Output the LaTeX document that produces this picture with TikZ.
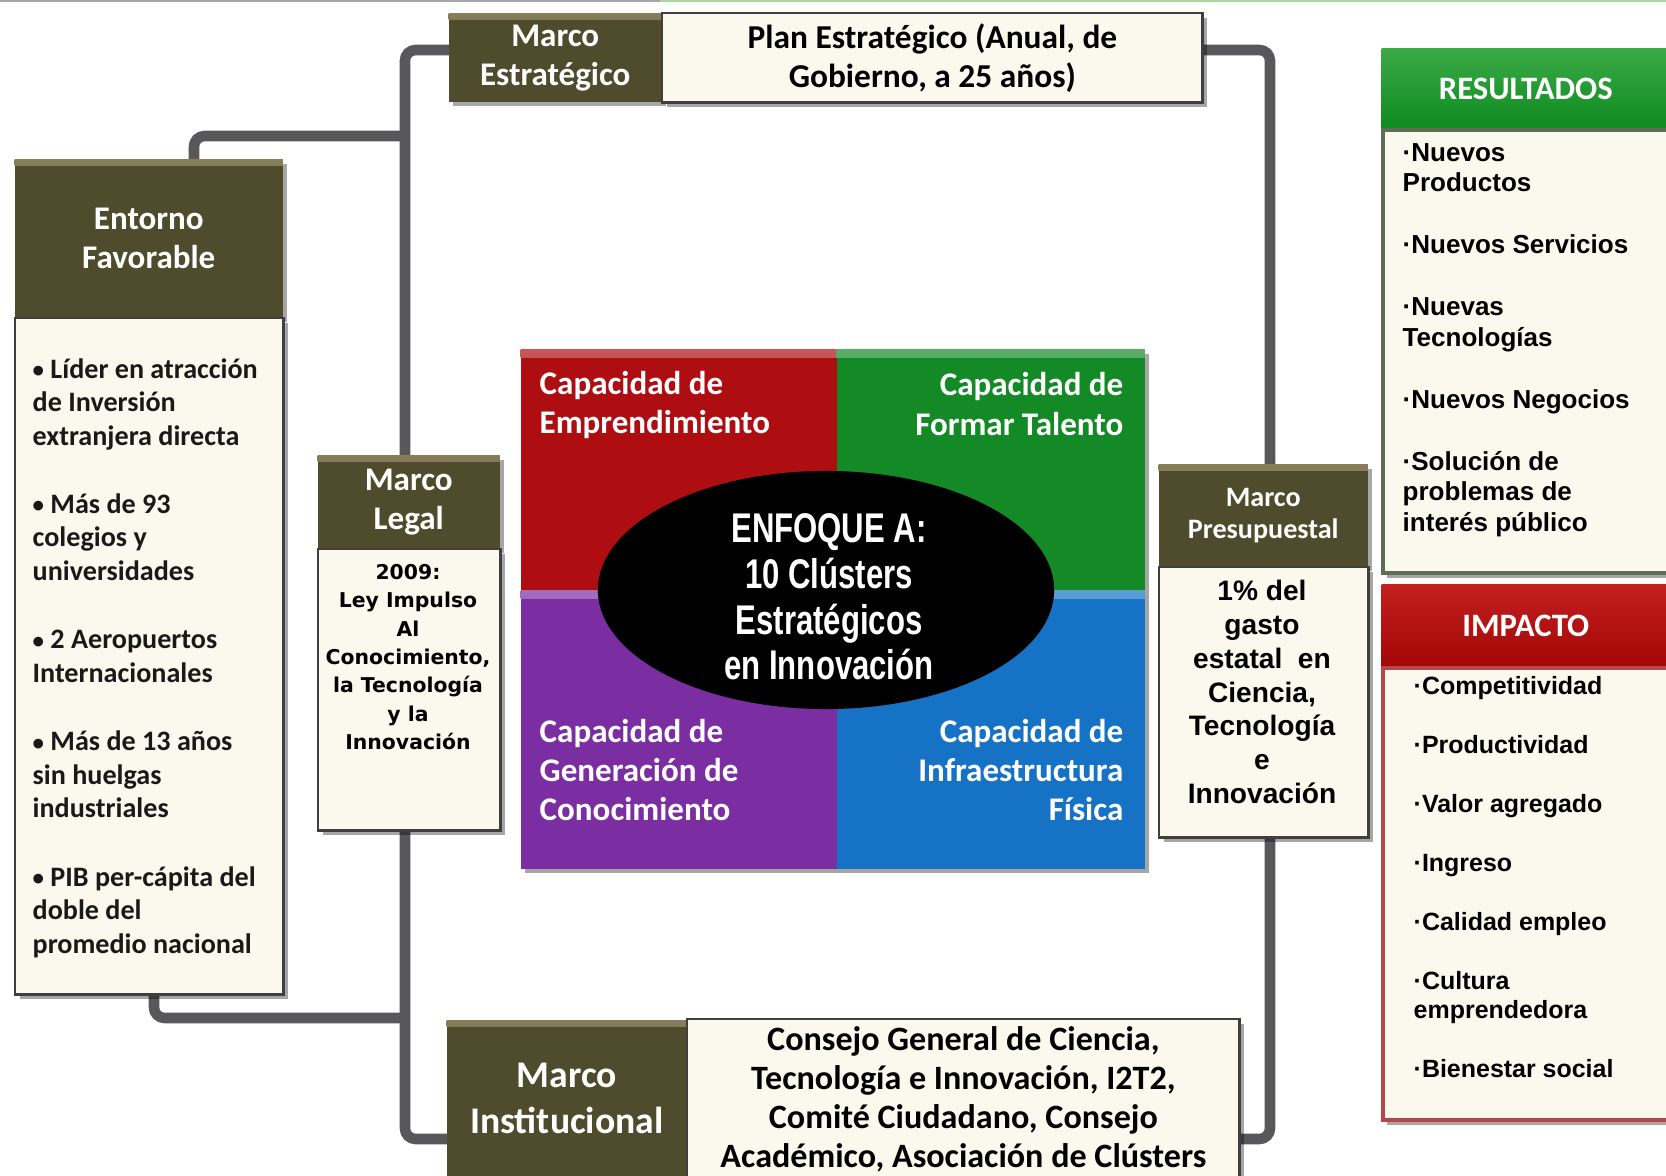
\documentclass[tikz,border=0pt]{standalone}
\usepackage{fontspec}
\setmainfont{Carlito}
\newfontfamily\arialf{Liberation Sans}
\newfontfamily\verdf{DejaVu Sans}
\newfontfamily\narrowf[FakeStretch=0.75,BoldFont={Liberation Sans Bold}]{Liberation Sans}
\usetikzlibrary{shapes.geometric,shadows,backgrounds}
\pgfdeclarelayer{bgzero}
\pgfsetlayers{bgzero,background,main}
\newcommand{\sbul}{{\fontsize{6.5}{6.5}\selectfont\raisebox{0.2pt}{•}}}

\definecolor{olivebox}{HTML}{4F4B2D}
\definecolor{olivelight}{HTML}{857E58}
\definecolor{creambox}{HTML}{FBF9EE}
\definecolor{edgegray}{HTML}{3F3F3F}
\definecolor{conngray}{HTML}{58585A}
\definecolor{qred}{HTML}{AE0E12}
\definecolor{qgreen}{HTML}{138A26}
\definecolor{qpurple}{HTML}{7A2EA2}
\definecolor{qblue}{HTML}{1672C4}
\definecolor{resgreen}{HTML}{0E8A1F}
\definecolor{resgreenlight}{HTML}{3BAA47}
\definecolor{impred}{HTML}{A20606}
\definecolor{impredlight}{HTML}{C42020}
\definecolor{resedge}{HTML}{5E6E55}
\definecolor{impedge}{HTML}{B4474A}
\definecolor{toplinegreen}{HTML}{A8D8A0}

\begin{document}
\begin{tikzpicture}[x=0.01cm,y=-0.01cm,
  shdw/.style={drop shadow={shadow xshift=1.3pt,shadow yshift=-1.3pt,opacity=0.35,fill=black}},
  hdrbox/.style={shdw, fill=olivebox, inner sep=0pt, anchor=north west, align=center, text=white,
     font=\bfseries\fontsize{9.4}{11.1}\selectfont,
     path picture={\shade[top color=olivelight,bottom color=olivebox] (path picture bounding box.north west) rectangle ([yshift=-1.6pt]path picture bounding box.north east);}},
  bodybox/.style={shdw, fill=creambox, draw=edgegray, line width=0.7pt, inner sep=0pt, anchor=north west, align=center},
  conn/.style={draw=conngray, line width=3pt, rounded corners=3pt},
  quad/.style={shdw, fill=#1, inner sep=0pt, anchor=north west,
     path picture={\shade[top color=#1!70!white,bottom color=#1] (path picture bounding box.north west) rectangle ([yshift=-2.2pt]path picture bounding box.north east);}},
  qtxt/.style={inner sep=0pt, text=white, font=\bfseries\fontsize{9.4}{11.1}\selectfont},
  colhdr/.style={shdw, anchor=north west, inner sep=0pt, text=white, font=\bfseries\fontsize{9.3}{11}\selectfont}
]
\useasboundingbox (0,0) rectangle (1666,1175);
\begin{pgfonlayer}{bgzero}
\fill[white] (0,0) rectangle (1666,1175);
\end{pgfonlayer}
\clip (0,0) rectangle (1666,1175);

\draw[line width=0.6pt, black!35] (0,1) -- (660,1);
\draw[line width=0.6pt, toplinegreen] (660,1) -- (1666,1);

% Marco Estrategico
\node[hdrbox, minimum width=2.13cm, minimum height=0.88cm] (me) at (448,13) {Marco\\Estratégico};
\node[bodybox, minimum width=5.40cm, minimum height=0.89cm, font=\bfseries\fontsize{9.5}{11.1}\selectfont] (plan) at (661,12) {Plan Estratégico (Anual, de\\Gobierno, a 25 años)};

% Entorno Favorable
\node[hdrbox, minimum width=2.68cm, minimum height=1.58cm] (enth) at (14,159) {Entorno\\Favorable};
\node[bodybox, minimum width=2.68cm, minimum height=6.76cm] (entb) at (14,317) {};
\node[anchor=west, inner sep=0pt, align=left, text=black!90, font=\bfseries\fontsize{8}{9.5}\selectfont] (tent) at (32,658)
 {\sbul{} Líder en atracción\\de Inversión\\extranjera directa\\[10pt]\sbul{} Más de 93\\colegios y\\universidades\\[10pt]\sbul{} 2 Aeropuertos\\Internacionales\\[10pt]\sbul{} Más de 13 años\\sin huelgas\\industriales\\[10pt]\sbul{} PIB per-cápita del\\doble del\\promedio nacional};

% Marco Legal
\node[hdrbox, minimum width=1.82cm, minimum height=0.93cm] (mlh) at (317,455) {Marco\\Legal};
\node[bodybox, minimum width=1.82cm, minimum height=2.81cm] (mlb) at (317,548) {};
\node[inner sep=0pt, align=center, font=\verdf\bfseries\fontsize{5.8}{8.05}\selectfont] (tml) at (408,657)
 {2009:\\Ley Impulso\\Al\\Conocimiento,\\la Tecnología\\y la\\Innovación};

% Quadrants
\node[quad=qred, minimum width=3.16cm, minimum height=2.41cm] (q1) at (520,349) {};
\node[quad=qgreen, minimum width=3.08cm, minimum height=2.41cm] (q2) at (836,349) {};
\node[quad=qpurple, minimum width=3.16cm, minimum height=2.78cm] (q3) at (520,590) {};
\node[quad=qblue, minimum width=3.08cm, minimum height=2.78cm] (q4) at (836,590) {};
\node[ellipse, fill=black, inner sep=0pt, minimum width=4.56cm, minimum height=2.38cm] (ell) at (826,590) {};
\node[inner sep=0pt, align=center, text=white, font=\narrowf\bfseries\fontsize{11.8}{12.96}\selectfont] (tell) at (829,597)
 {ENFOQUE A:\\10 Clústers\\Estratégicos\\en Innovación};
\node[qtxt, anchor=west, align=left] (t1) at (539,405) {Capacidad de\\Emprendimiento};
\node[qtxt, anchor=east, align=right] (t2) at (1124,404) {Capacidad de\\Formar Talento};
\node[qtxt, anchor=west, align=left] (t3) at (539,770) {Capacidad de\\Generación de\\Conocimiento};
\node[qtxt, anchor=east, align=right] (t4) at (1124,770) {Capacidad de\\Infraestructura\\Física};

% Marco Presupuestal
\node[hdrbox, minimum width=2.09cm, minimum height=1.02cm, font=\bfseries\fontsize{8}{9.2}\selectfont] (mph) at (1158,464) {Marco\\Presupuestal};
\node[bodybox, minimum width=2.09cm, minimum height=2.70cm] (mpb) at (1158,566) {};
\node[inner sep=0pt, align=center, font=\arialf\bfseries\fontsize{8}{9.6}\selectfont] (tmp) at (1262,692)
 {1\% del\\gasto\\estatal~ en\\Ciencia,\\Tecnología\\e\\Innovación};

% Resultados
\node[colhdr, minimum width=2.88cm, minimum height=0.80cm, top color=resgreenlight, bottom color=resgreen] (resh) at (1381,48) {RESULTADOS};
\node[bodybox, draw=resedge, line width=1pt, minimum width=2.95cm, minimum height=4.43cm] (resb) at (1381,128) {};
\node[anchor=west, inner sep=0pt, align=left, font=\arialf\bfseries\fontsize{7.4}{8.65}\selectfont] (tres) at (1402,340)
 {·Nuevos\\Productos\\[9pt]·Nuevos Servicios\\[9pt]·Nuevas\\Tecnologías\\[9pt]·Nuevos Negocios\\[9pt]·Solución de\\problemas de\\interés público};

% Impacto
\node[colhdr, minimum width=2.88cm, minimum height=0.82cm, top color=impredlight, bottom color=impred] (imph) at (1381,584) {IMPACTO};
\node[bodybox, draw=impedge, line width=1pt, minimum width=2.95cm, minimum height=4.52cm] (impb) at (1381,666) {};
\node[anchor=west, inner sep=0pt, align=left, font=\arialf\bfseries\fontsize{7.1}{8.1}\selectfont] (timp) at (1413,877)
 {·Competitividad\\[8.7pt]·Productividad\\[8.7pt]·Valor agregado\\[8.7pt]·Ingreso\\[8.7pt]·Calidad empleo\\[8.7pt]·Cultura\\emprendedora\\[8.7pt]·Bienestar social};

% Marco Institucional
\node[hdrbox, minimum width=2.40cm, minimum height=1.56cm, font=\bfseries\fontsize{10.7}{13}\selectfont] (mih) at (446,1020) {Marco\\Institucional};
\node[bodybox, minimum width=5.52cm, minimum height=1.60cm, font=\bfseries\fontsize{9.7}{11.1}\selectfont] (mib) at (686,1018)
 {Consejo General de Ciencia,\\Tecnología e Innovación, I2T2,\\Comité Ciudadano, Consejo\\Académico, Asociación de Clústers};

% Connectors
\coordinate (lt) at (405,50);
\coordinate (lb) at (405,1139);
\coordinate (rt) at (1270,50);
\coordinate (rb) at (1270,1139);
\coordinate (eb1) at (194,136);
\coordinate (eb2) at (154,1018);
\begin{pgfonlayer}{background}
\draw[conn] (me.center |- lt) -- (lt) -- (lb) -- (lb -| mih.center);
\draw[conn] (plan.center |- rt) -- (rt) -- (rb) -- (rb -| mib.center);
\draw[conn] (lt |- eb1) -- (eb1) -- (eb1 |- enth.center);
\draw[conn] (lt |- eb2) -- (eb2) -- (eb2 |- entb.center);
\end{pgfonlayer}
\end{tikzpicture}
\end{document}
